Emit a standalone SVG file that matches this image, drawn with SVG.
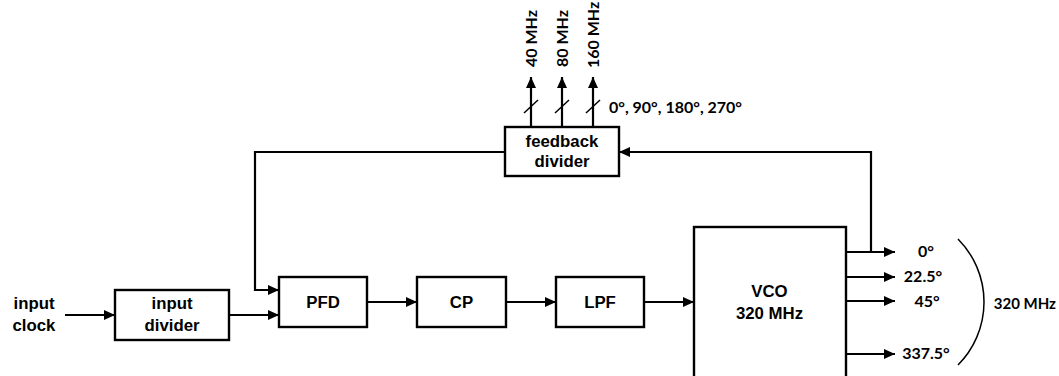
<svg xmlns="http://www.w3.org/2000/svg" width="1059" height="376" viewBox="0 0 1059 376">
  <style>
    .box { fill: #ffffff; stroke: #000000; stroke-width: 2.4; }
    .ln { fill: none; stroke: #000000; stroke-width: 2.2; }
    .thin { fill: none; stroke: #000000; stroke-width: 1.5; }
    .t { font-family: "Liberation Sans", Arial, sans-serif; font-weight: bold; font-size: 16.8px; fill: #000000; text-anchor: middle; }
    .c { font-family: Lato, "Open Sans", sans-serif; font-weight: bold; font-size: 16px; fill: #000000; }
  </style>
  <defs>
    <marker id="ah" markerUnits="userSpaceOnUse" markerWidth="12" markerHeight="11" refX="11" refY="5" orient="auto">
      <path d="M0,0 L11,5 L0,10 z" fill="#000000"/>
    </marker>
  </defs>

  <g id="connectors">
    <path class="ln" d="M65,315 H115" marker-end="url(#ah)"/>
    <path class="ln" d="M229,315 H279" marker-end="url(#ah)"/>
    <path class="ln" d="M367,302 H417" marker-end="url(#ah)"/>
    <path class="ln" d="M506,302 H556" marker-end="url(#ah)"/>
    <path class="ln" d="M644,302 H694" marker-end="url(#ah)"/>
    <path class="ln" d="M505,152 H255 V290 H279" marker-end="url(#ah)"/>
    <path class="ln" d="M871,252 V152 H619" marker-end="url(#ah)"/>
    <path class="ln" d="M846,252 H895" marker-end="url(#ah)"/>
    <path class="ln" d="M846,277 H895" marker-end="url(#ah)"/>
    <path class="ln" d="M846,301 H895" marker-end="url(#ah)"/>
    <path class="ln" d="M846,354 H895" marker-end="url(#ah)"/>
    <path class="ln" d="M531,127 V77" marker-end="url(#ah)"/>
    <path class="ln" d="M562,127 V77" marker-end="url(#ah)"/>
    <path class="ln" d="M593,127 V77" marker-end="url(#ah)"/>
    <path class="thin" d="M524,113 L538,100"/>
    <path class="thin" d="M555,113 L569,100"/>
    <path class="thin" d="M586,113 L600,100"/>
    <path class="thin" d="M958,239 A89.3,89.3 0 0 1 958,365"/>
  </g>

  <g id="input-clock">
    <text class="t" x="34" y="309">input</text>
    <text class="t" x="34" y="331">clock</text>
  </g>
  <g id="input-divider">
    <rect class="box" x="115" y="290" width="114" height="50"/>
    <text class="t" x="172" y="309">input</text>
    <text class="t" x="172" y="331">divider</text>
  </g>
  <g id="pfd">
    <rect class="box" x="279" y="277" width="88" height="50"/>
    <text class="t" x="323" y="308">PFD</text>
  </g>
  <g id="cp">
    <rect class="box" x="417" y="277" width="89" height="50"/>
    <text class="t" x="461.5" y="308">CP</text>
  </g>
  <g id="lpf">
    <rect class="box" x="556" y="277" width="88" height="50"/>
    <text class="t" x="600" y="308">LPF</text>
  </g>
  <g id="vco">
    <rect class="box" x="694" y="227" width="152" height="160"/>
    <text class="t" x="769.5" y="297">VCO</text>
    <text class="t" x="769.5" y="319">320 MHz</text>
  </g>
  <g id="feedback-divider">
    <rect class="box" x="505" y="127" width="114" height="49"/>
    <text class="t" x="562" y="147">feedback</text>
    <text class="t" x="562" y="167">divider</text>
  </g>
  <g id="outputs-top">
    <text class="c" transform="translate(537,67) rotate(-90)">40 MHz</text>
    <text class="c" transform="translate(568,67) rotate(-90)">80 MHz</text>
    <text class="c" transform="translate(599,68) rotate(-90)">160 MHz</text>
    <text class="c" x="609" y="113">0°, 90°, 180°, 270°</text>
  </g>
  <g id="outputs-right">
    <text class="c" x="926" y="257" text-anchor="middle">0°</text>
    <text class="c" x="923" y="282" text-anchor="middle">22.5°</text>
    <text class="c" x="927" y="307" text-anchor="middle">45°</text>
    <text class="c" x="926" y="359" text-anchor="middle">337.5°</text>
    <text class="c" x="1056" y="309" text-anchor="end" style="font-size:15px">320 MHz</text>
  </g>
</svg>
